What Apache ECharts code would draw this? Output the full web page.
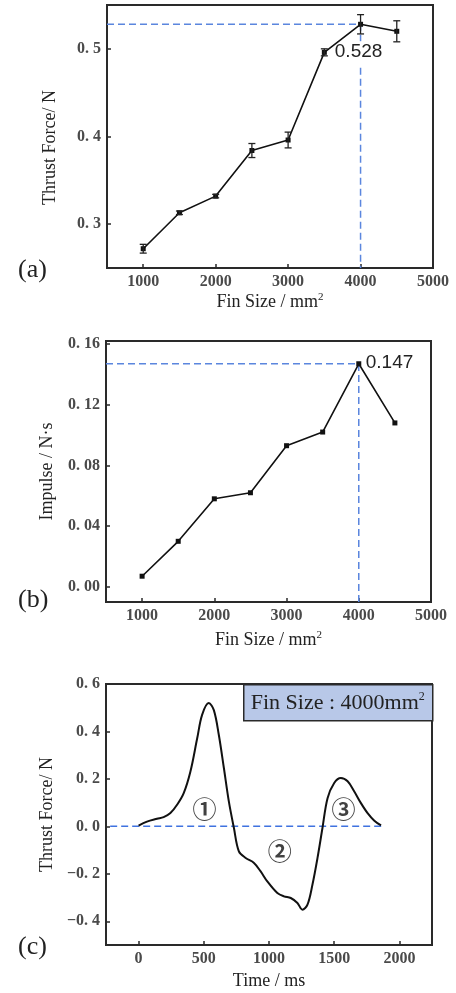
<!DOCTYPE html>
<html>
<head>
<meta charset="utf-8">
<script src="https://cdn.jsdelivr.net/npm/echarts@6/dist/echarts.min.js"></script>
<style>
  html, body { margin: 0; padding: 0; background: #fff; }
  #chart { width: 456px; height: 993px; }
</style>
</head>
<body>
<div id="chart"></div>
<script>
// fin size sweep (panels a, b)
const finSize = [1000, 1500, 2000, 2500, 3000, 3500, 4000, 4500];
const thrustMean = [0.272, 0.313, 0.332, 0.384, 0.396, 0.496, 0.528, 0.520];
const thrustErr = [0.005, 0.002, 0.002, 0.008, 0.009, 0.004, 0.011, 0.012];
const impulse = [0.007, 0.030, 0.058, 0.062, 0.093, 0.102, 0.147, 0.108];
const finTicks = [1000, 2000, 3000, 4000, 5000];
const thrustTicks = [0.3, 0.4, 0.5];
const impulseTicks = [0, 0.04, 0.08, 0.12, 0.16];

// thrust over one stroke at 4000 mm2 (panel c)
const timeMs = [0, 64, 141, 192, 244, 295, 346, 397, 449, 487, 538, 577, 615, 654, 692, 731,
  769, 821, 885, 936, 987, 1064, 1115, 1167, 1218, 1256, 1295, 1333, 1372, 1410, 1449,
  1500, 1551, 1603, 1654, 1705, 1756, 1808, 1859];
const thrustCurve = [0.003, 0.020, 0.032, 0.039, 0.056, 0.091, 0.140, 0.230, 0.370, 0.470, 0.520, 0.490,
  0.386, 0.246, 0.105, -0.007, -0.105, -0.133, -0.154, -0.190, -0.232, -0.281, -0.295, -0.302,
  -0.323, -0.351, -0.330, -0.246, -0.133, -0.007, 0.119, 0.183, 0.204, 0.190, 0.147, 0.098,
  0.056, 0.024, 0.004];
const timeTicks = [0, 500, 1000, 1500, 2000];
const curveTicks = [-0.4, -0.2, 0, 0.2, 0.4, 0.6];
const phaseNames = ['①', '②', '③'];
const phaseT = [505, 1082, 1572];
const phaseF = [0.074, -0.105, 0.074];
const zeroLineT = [-218, 1872];

const peakIdx = 6;

const serif = 'Liberation Serif';
const dashBlue = '#5b86de';

function tickFmt(digits) {
  return function (v) {
    const s = Math.abs(v).toFixed(digits).replace('.', '. ');
    return (v < -1e-9 ? '\u2212' : '') + s;
  };
}

function valueAxis(idx, min, max, ticks, fmt, extra) {
  return Object.assign({
    type: 'value',
    gridIndex: idx,
    min: min,
    max: max,
    splitLine: { show: false },
    axisLine: { show: true, onZero: false, lineStyle: { color: '#2a2a2a', width: 2 } },
    axisTick: { show: true, inside: true, length: 4, customValues: ticks, lineStyle: { color: '#2a2a2a', width: 1.5 } },
    axisLabel: {
      customValues: ticks, formatter: fmt, margin: 6,
      fontFamily: serif, fontSize: 16, fontWeight: 'bold', color: '#4a4a4a'
    },
    nameLocation: 'middle',
    nameTextStyle: {
      fontFamily: serif, fontSize: 18, color: '#222',
      rich: {
        b: { fontFamily: serif, fontSize: 18, color: '#222' },
        s: { fontFamily: serif, fontSize: 11, color: '#222', padding: [0, 0, 9, 0] }
      }
    }
  }, extra);
}

function shiftedName(size, pad) {
  return {
    fontFamily: serif, fontSize: size, color: '#222', padding: pad
  };
}

const chart = echarts.init(document.getElementById('chart'));

const errData = finSize.map((x, i) => [x, thrustMean[i] - thrustErr[i], thrustMean[i] + thrustErr[i]]);

function pairs(xs, ys) { return xs.map((x, i) => [x, ys[i]]); }

const option = {
  animation: false,
  backgroundColor: '#fff',
  grid: [
    { left: 107, width: 326, top: 5, height: 263, show: true, borderColor: '#2a2a2a', borderWidth: 2, containLabel: false },
    { left: 106, width: 325, top: 341, height: 261, show: true, borderColor: '#2a2a2a', borderWidth: 2, containLabel: false },
    { left: 106, width: 326, top: 684, height: 261, show: true, borderColor: '#2a2a2a', borderWidth: 2, containLabel: false }
  ],
  xAxis: [
    valueAxis(0, 500, 5000, finTicks, v => String(v), { name: '{b|Fin Size / mm}{s|2}', nameGap: 24 }),
    valueAxis(1, 500, 5000, finTicks, v => String(v), { name: '{b|Fin Size / mm}{s|2}', nameGap: 28 }),
    valueAxis(2, -250, 2250, timeTicks, v => String(v), { name: 'Time / ms', nameGap: 27 })
  ],
  yAxis: [
    valueAxis(0, 0.25, 0.55, thrustTicks, tickFmt(1), { name: 'Thrust Force/ N', nameGap: 48, nameTextStyle: shiftedName(18, [0, 22, 0, 0]) }),
    valueAxis(1, -0.01, 0.162, impulseTicks, tickFmt(2), { name: 'Impulse / N\u00b7s', nameGap: 50 }),
    valueAxis(2, -0.5, 0.6, curveTicks, tickFmt(1), { name: 'Thrust Force/ N', nameGap: 48 })
  ],
  title: [
    { text: '(a)', left: 13, top: 252, textStyle: { fontFamily: serif, fontSize: 26, fontWeight: 'normal', color: '#222' } },
    { text: '(b)', left: 13, top: 582, textStyle: { fontFamily: serif, fontSize: 26, fontWeight: 'normal', color: '#222' } },
    { text: '(c)', left: 13, top: 929, textStyle: { fontFamily: serif, fontSize: 26, fontWeight: 'normal', color: '#222' } }
  ],
  graphic: [
    {
      type: 'group', left: 243, top: 684,
      children: [
        { type: 'rect', shape: { x: 0, y: 0, width: 189, height: 36 }, style: { fill: '#b8c8e8', stroke: '#2a2a2a', lineWidth: 1.5 } },
        {
          type: 'text', x: 94, y: 18,
          style: {
            text: '{b|Fin Size : 4000mm}{s|2}', align: 'center', verticalAlign: 'middle',
            rich: {
              b: { fontFamily: serif, fontSize: 22, fill: '#222' },
              s: { fontFamily: serif, fontSize: 12, fill: '#222', padding: [0, 0, 11, 0] }
            }
          }
        }
      ]
    }
  ],
  series: [
    // (a) reference dashes + value label
    {
      type: 'line', xAxisIndex: 0, yAxisIndex: 0, z: 1,
      symbol: 'circle', symbolSize: 0, showSymbol: true,
      lineStyle: { color: dashBlue, width: 1.5, type: [7, 4] },
      data: [
        [500, thrustMean[peakIdx]],
        {
          value: [finSize[peakIdx], thrustMean[peakIdx]],
          label: {
            show: true, position: 'bottom', distance: 17, offset: [-2, 0],
            formatter: p => p.value[1].toFixed(3),
            fontFamily: 'Liberation Sans', fontSize: 19, color: '#222',
            backgroundColor: '#fff', padding: [1, 1, 3, 1]
          }
        },
        [finSize[peakIdx], 0.25]
      ]
    },
    {
      type: 'line', xAxisIndex: 0, yAxisIndex: 0, z: 3,
      data: pairs(finSize, thrustMean),
      symbol: 'rect', symbolSize: 5,
      itemStyle: { color: '#111' },
      lineStyle: { color: '#111', width: 1.6 }
    },
    {
      type: 'custom', xAxisIndex: 0, yAxisIndex: 0, z: 4,
      encode: { x: 0, y: [1, 2] },
      data: errData,
      renderItem: function (params, api) {
        const x = api.value(0);
        const lo = api.coord([x, api.value(1)]);
        const hi = api.coord([x, api.value(2)]);
        const w = 3.5;
        const st = { stroke: '#222', lineWidth: 1.3 };
        return {
          type: 'group',
          children: [
            { type: 'line', shape: { x1: lo[0], y1: lo[1], x2: hi[0], y2: hi[1] }, style: st },
            { type: 'line', shape: { x1: lo[0] - w, y1: lo[1], x2: lo[0] + w, y2: lo[1] }, style: st },
            { type: 'line', shape: { x1: hi[0] - w, y1: hi[1], x2: hi[0] + w, y2: hi[1] }, style: st }
          ]
        };
      }
    },
    // (b)
    {
      type: 'line', xAxisIndex: 1, yAxisIndex: 1, z: 1,
      symbol: 'circle', symbolSize: 0, showSymbol: true,
      lineStyle: { color: dashBlue, width: 1.5, type: [7, 4] },
      data: [
        [500, impulse[peakIdx]],
        {
          value: [finSize[peakIdx], impulse[peakIdx]],
          label: {
            show: true, position: 'right', distance: 7, offset: [0, -1],
            formatter: p => p.value[1].toFixed(3),
            fontFamily: 'Liberation Sans', fontSize: 19, color: '#222'
          }
        },
        [finSize[peakIdx], -0.01]
      ]
    },
    {
      type: 'line', xAxisIndex: 1, yAxisIndex: 1, z: 3,
      data: pairs(finSize, impulse),
      symbol: 'rect', symbolSize: 5,
      itemStyle: { color: '#111' },
      lineStyle: { color: '#111', width: 1.6 }
    },
    // (c)
    {
      type: 'line', xAxisIndex: 2, yAxisIndex: 2, z: 1, symbol: 'none',
      lineStyle: { color: '#3f72e0', width: 1.5, type: [7, 4] },
      data: zeroLineT.map(t => [t, 0])
    },
    {
      type: 'line', xAxisIndex: 2, yAxisIndex: 2, z: 3,
      data: pairs(timeMs, thrustCurve),
      symbol: 'none', smooth: 0.35,
      lineStyle: { color: '#111', width: 2 }
    },
    {
      type: 'scatter', xAxisIndex: 2, yAxisIndex: 2, z: 4,
      symbolSize: 1, itemStyle: { color: 'rgba(0,0,0,0)' },
      data: phaseT.map((t, i) => [t, phaseF[i], phaseNames[i]]),
      label: {
        show: true, position: 'inside', formatter: p => p.value[2],
        fontFamily: 'Noto Sans CJK SC', fontSize: 24, fontWeight: 'bold', color: '#111'
      }
    }
  ]
};

chart.setOption(option);
</script>
</body>
</html>
